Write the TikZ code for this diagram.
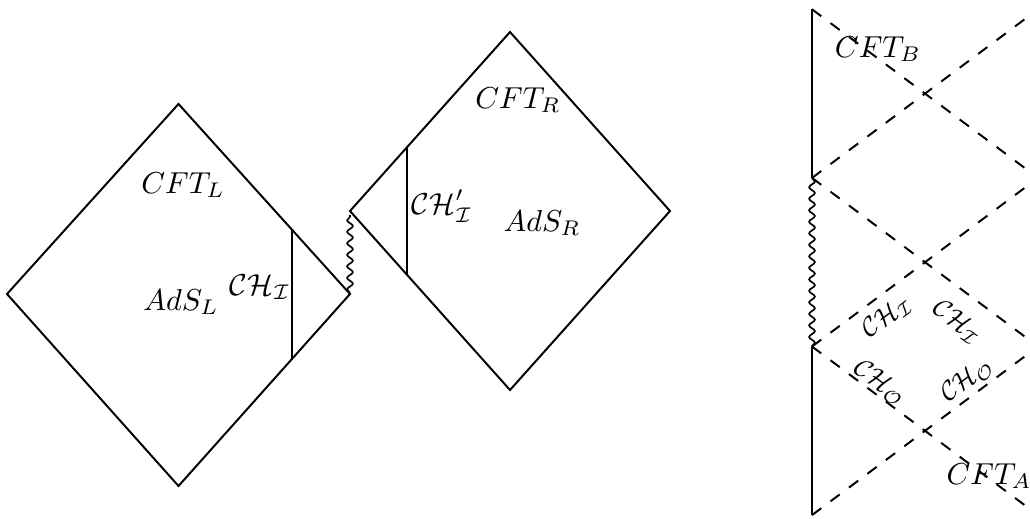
\documentclass[tikz,border=0pt]{standalone}
\usetikzlibrary{decorations.pathmorphing}
\tikzset{
  edge/.style={line width=0.65pt, line join=miter},
  nullline/.style={line width=0.65pt, dash pattern=on 3.8pt off 3.8pt},
  sing/.style={line width=0.55pt, decorate, decoration={snake, amplitude=0.95pt, segment length=3.8pt}},
  lab/.style={inner sep=0pt},
  smalllab/.style={inner sep=0pt, scale=0.88},
}
\begin{document}
\begin{tikzpicture}[x=0.33pt,y=-0.33pt]
\useasboundingbox (0,0) rectangle (1030,519);
\clip (0,0) rectangle (1030,519);
% ---------- left diamond ----------
\coordinate (Lt) at (178.5,104);
\coordinate (Lr) at (350,294);
\coordinate (Lb) at (178.5,486);
\coordinate (Ll) at (7,294);
\coordinate (LHt) at (292,230);
\coordinate (LHb) at (292,359.5);
\draw[edge] (Lt) -- (Lr) -- (Lb) -- (Ll) -- cycle;
\draw[edge] (LHt) -- (LHb);
% ---------- right diamond ----------
\coordinate (Rt) at (510,32);
\coordinate (Rr) at (670,211);
\coordinate (Rb) at (510,390);
\coordinate (Rl) at (350,211);
\coordinate (RHt) at (407,147.2);
\coordinate (RHb) at (407,274.8);
\draw[edge] (Rt) -- (Rr) -- (Rb) -- (Rl) -- cycle;
\draw[edge] (RHt) -- (RHb);
% singularity between them
\coordinate (Ws) at (350,293);
\coordinate (We) at (350,215);
\draw[sing] (Ws) -- (We);
% labels
\node[lab] (cftl) at (183,185) {$CFT_L$};
\node[lab] (adsl) at (181,302) {$AdS_L$};
\node[lab] (chl) at (260,287) {$\mathcal{CH}_{\mathcal{I}}$};
\node[lab] (cftr) at (518,100) {$CFT_R$};
\node[lab] (chr) at (442,206) {$\mathcal{CH}'_{\mathcal{I}}$};
\node[lab] (adsr) at (542,223) {$AdS_R$};
% ---------- extended diagram ----------
\coordinate (A0) at (812,9.3);
\coordinate (A1) at (812,177.9);
\coordinate (A2) at (812,346.5);
\coordinate (A3) at (812,515.1);
\coordinate (B0) at (1038,9.3);
\coordinate (B1) at (1038,177.9);
\coordinate (B2) at (1038,346.5);
\coordinate (B3) at (1038,515.1);
\draw[edge] (A0) -- (A1);
\draw[sing] (A1) -- (A2);
\draw[edge] (A2) -- (A3);
\draw[nullline] (A0) -- (B1);
\draw[nullline] (A1) -- (B0);
\draw[nullline] (A1) -- (B2);
\draw[nullline] (A2) -- (B1);
\draw[nullline] (A2) -- (B3);
\draw[nullline] (A3) -- (B2);
\node[lab] (cftb) at (878,49) {$CFT_B$};
\node[lab] (cfta) at (989,476) {$CFT_A$};
\node[smalllab, rotate=36.5] (chi1) at (887,317) {$\mathcal{CH}_{\mathcal{I}}$};
\node[smalllab, rotate=-36.5] (chi2) at (957,322) {$\mathcal{CH}_{\mathcal{I}}$};
\node[smalllab, rotate=-36.5] (cho1) at (880,383) {$\mathcal{CH}_{\mathcal{O}}$};
\node[smalllab, rotate=36.5] (cho2) at (967,380) {$\mathcal{CH}_{\mathcal{O}}$};
\end{tikzpicture}
\end{document}
